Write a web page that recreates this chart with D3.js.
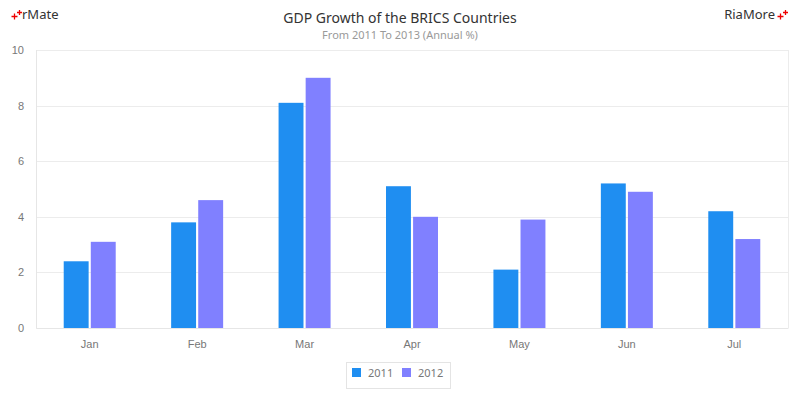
<!DOCTYPE html>
<html><head><meta charset="utf-8">
<script src="https://cdn.jsdelivr.net/npm/d3@7"></script>
<style>
body{margin:0;background:#fff;}
svg{display:block;font-family:"Noto Sans","Open Sans",sans-serif;}
</style></head>
<body><svg id="c" width="800" height="400"></svg>
<script>
const categories = ["Jan","Feb","Mar","Apr","May","Jun","Jul"];
const seriesNames = ["2011","2012"];
const values2011 = [2.4,3.8,8.1,5.1,2.1,5.2,4.2];
const values2012 = [3.1,4.6,9.0,4.0,3.9,4.9,3.2];
const yTicks = [0,2,4,6,8,10];
const colors = ["#1f8ef1","#8080ff"];

const svg = d3.select("#c");
const m = {left:36, right:12, top:50, bottom:72};
const W = 800, H = 400;
const x = d3.scaleBand().domain(categories).range([m.left, W-m.right]).paddingInner(0).paddingOuter(0);
const xs = d3.scaleBand().domain(seriesNames).range([0, 52]).paddingInner(0.08);
const y = d3.scaleLinear().domain([0,10]).range([H-m.bottom, m.top]);

// grid
svg.append("g").selectAll("line").data(yTicks).join("line")
  .attr("x1", m.left).attr("x2", W-m.right)
  .attr("y1", d=>Math.round(y(d))+0.5).attr("y2", d=>Math.round(y(d))+0.5)
  .attr("stroke", "#ececec");
// border
svg.append("line").attr("x1",m.left+0.5).attr("x2",m.left+0.5).attr("y1",m.top).attr("y2",H-m.bottom).attr("stroke","#e6e6e6");
svg.append("line").attr("x1",W-m.right+0.5).attr("x2",W-m.right+0.5).attr("y1",m.top).attr("y2",H-m.bottom).attr("stroke","#ececec");

// y axis
const yAxis = d3.axisLeft(y).tickValues(yTicks).tickSize(0).tickPadding(12);
const gy = svg.append("g").attr("transform",`translate(${m.left},0)`).call(yAxis);
gy.select(".domain").remove();
gy.selectAll("text").attr("fill","#777").style("font-size","11px");

// x axis
const xAxis = d3.axisBottom(x).tickSize(0).tickPadding(12);
const gx = svg.append("g").attr("transform",`translate(0,${H-m.bottom})`).call(xAxis);
gx.select(".domain").attr("stroke","#e6e6e6");
gx.selectAll("text").attr("fill","#777").style("font-size","11px");

// bars
const series = [values2011, values2012];
series.forEach((vals, si) => {
  svg.append("g").selectAll("rect").data(categories).join("rect")
    .attr("x", (c) => x(c) + x.bandwidth()/2 - 26 + xs(seriesNames[si]))
    .attr("width", xs.bandwidth())
    .attr("y", (c,i) => y(vals[i]))
    .attr("height", (c,i) => y(0) - y(vals[i]))
    .attr("fill", colors[si]);
});

// titles
svg.append("text").attr("x",400).attr("y",23).attr("text-anchor","middle")
  .attr("fill","#333").style("font-size","14px").text("GDP Growth of the BRICS Countries");
svg.append("text").attr("x",400).attr("y",39).attr("text-anchor","middle")
  .attr("fill","#999").style("font-size","11px").text("From 2011 To 2013 (Annual %)");

// logos
function plus(g, cx, cy, s){
  g.append("path").attr("d",`M${cx-s},${cy}H${cx+s}M${cx},${cy-s}V${cy+s}`).attr("stroke","#e00").attr("stroke-width",1.3);
}
const lg = svg.append("g");
plus(lg, 14.5, 16.5, 3); plus(lg, 19.5, 12.5, 2.5);
lg.append("text").attr("x",22).attr("y",19).attr("fill","#333").style("font-size","13px").text("rMate");
const rg = svg.append("g");
rg.append("text").attr("x",775).attr("y",19).attr("text-anchor","end").attr("fill","#333").style("font-size","13px").text("RiaMore");
plus(rg, 780.5, 16.5, 3); plus(rg, 785.5, 12.5, 2.5);

// legend
const leg = svg.append("g");
leg.append("rect").attr("x",346.5).attr("y",362.5).attr("width",104).attr("height",26).attr("fill","#fff").attr("stroke","#e4e4e4");
const li = leg.selectAll("g").data(seriesNames).join("g").attr("transform",(d,i)=>`translate(${352+i*50},0)`);
li.append("rect").attr("x",0).attr("y",368).attr("width",9).attr("height",9).attr("fill",(d,i)=>colors[i]);
li.append("text").attr("x",16).attr("y",377).attr("fill","#777").style("font-size","11px").text(d=>d);
</script></body></html>
